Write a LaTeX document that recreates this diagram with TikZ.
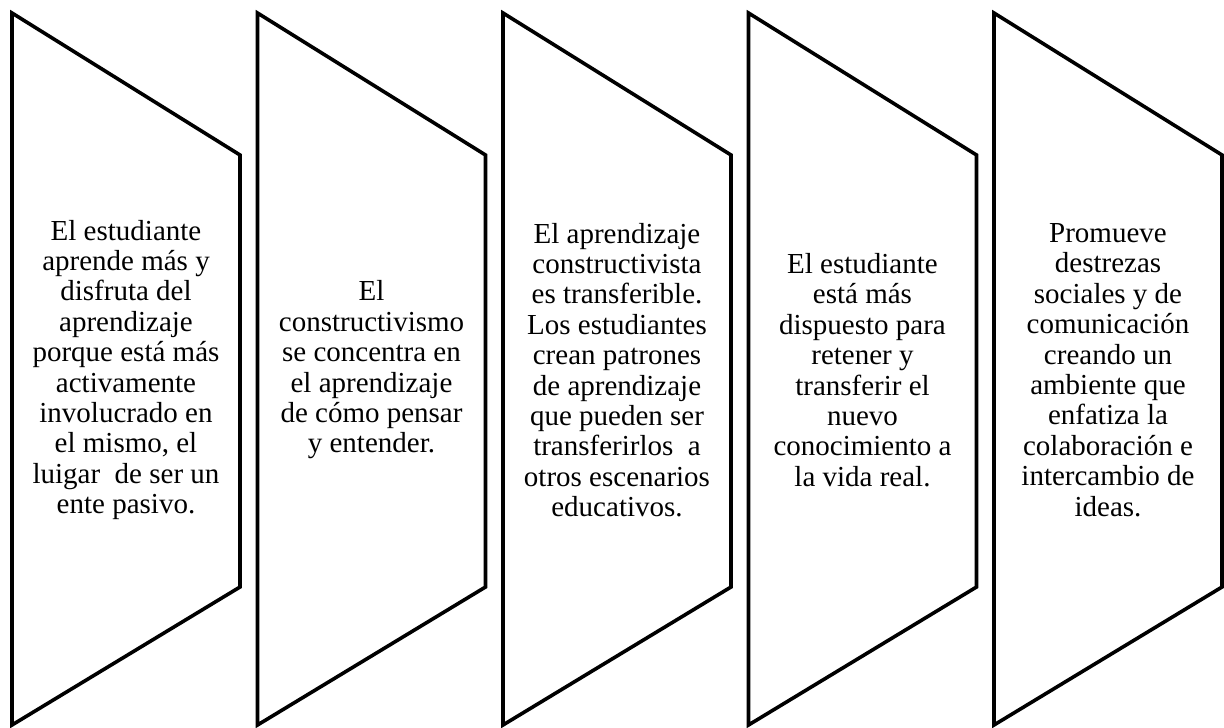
\documentclass[tikz,border=0pt]{standalone}
\usepackage{fontspec}
\setmainfont{Liberation Serif}
\begin{document}
\begin{tikzpicture}[x=1pt,y=-1pt,
  panel/.style={line width=3.6pt, line join=miter, draw=black},
  txt/.style={align=center, font=\fontsize{29}{30.4}\selectfont, inner sep=0pt, text=black}]
\useasboundingbox (0,0) rectangle (1224,728);
\foreach \i in {0,...,4} {
  \pgfmathsetmacro\L{12+245.5*\i}
  \draw[panel] (\L,13) -- (\L+228,155) -- (\L+228,587) -- (\L,725) -- cycle;
}
\node[txt] (t1) at (126,370) {El estudiante\\aprende más y\\disfruta del\\aprendizaje\\porque está más\\activamente\\involucrado en\\el mismo, el\\luigar~ de ser un\\ente pasivo.};
\node[txt] (t2) at (371.5,370) {El\\constructivismo\\se concentra en\\el aprendizaje\\de cómo pensar\\y entender.};
\node[txt] (t3) at (617,370) {El aprendizaje\\constructivista\\es transferible.\\Los estudiantes\\crean patrones\\de aprendizaje\\que pueden ser\\transferirlos~ a\\otros escenarios\\educativos.};
\node[txt] (t4) at (862.5,370) {El estudiante\\está más\\dispuesto para\\retener y\\transferir el\\nuevo\\conocimiento a\\la vida real.};
\node[txt] (t5) at (1108,370) {Promueve\\destrezas\\sociales y de\\comunicación\\creando un\\ambiente que\\enfatiza la\\colaboración e\\intercambio de\\ideas.};
\end{tikzpicture}
\end{document}
